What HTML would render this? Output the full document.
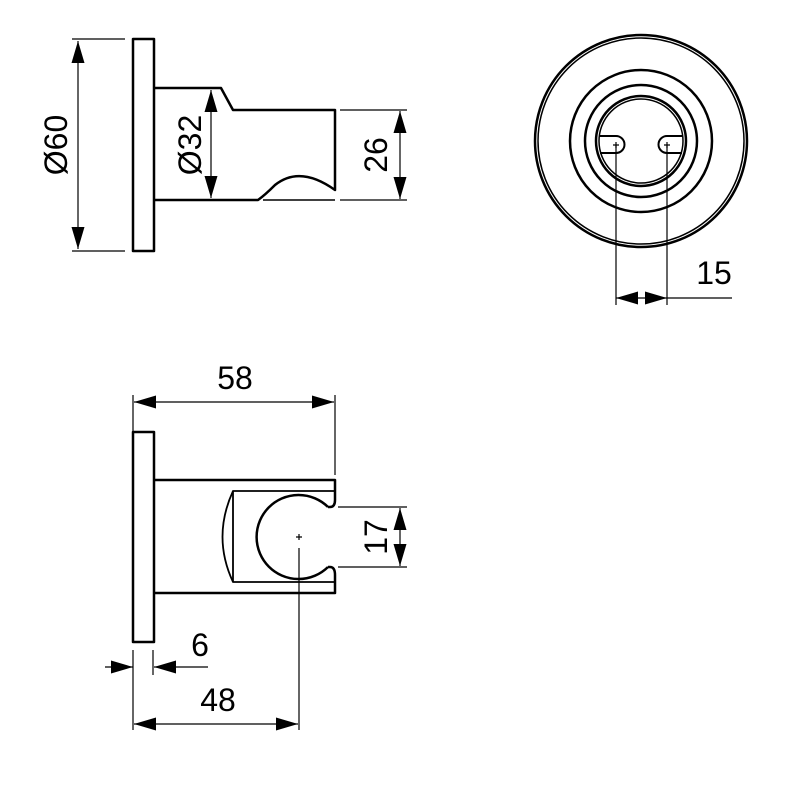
<!DOCTYPE html>
<html><head><style>body{margin:0;background:#fff}</style></head><body>
<svg width="800" height="800" viewBox="0 0 800 800" xmlns="http://www.w3.org/2000/svg" font-family="Liberation Sans, sans-serif">
<defs>
<marker id="a" viewBox="0 0 22 13" refX="22" refY="6.5" markerWidth="22" markerHeight="13" markerUnits="userSpaceOnUse" orient="auto-start-reverse"><path d="M0,0L22,6.5L0,13z" fill="#000"/></marker>
</defs>
<g fill="none" stroke="#000" stroke-width="2.5" stroke-linejoin="round">
<rect x="133" y="39" width="21" height="212"/>
<path d="M154,88H221L233,110H335V190Q300,165 275,185Q265,195 258,200H154"/>
<path d="M263,200H335" stroke-width="1.5"/>
<circle cx="641" cy="141" r="106"/>
<circle cx="641" cy="141" r="103" stroke-width="1.5"/>
<circle cx="641" cy="141" r="71"/>
<circle cx="641" cy="141" r="56"/>
<circle cx="641" cy="141" r="45"/>
<circle cx="641" cy="141" r="42" stroke-width="1.5"/>
<path d="M600,136H616A8,8 0 0 1 616,153H600" stroke-width="2"/>
<path d="M682,136H667A8,8 0 0 0 667,153H682" stroke-width="2"/>
<rect x="133" y="432" width="21" height="210"/>
<path d="M154,480H335V500Q335,507 330,507H328"/>
<path d="M328,567H330Q335,567 335,575V593H154"/>
<path d="M328,507A42,42 0 1 0 328,567"/>
<path d="M335,491H233V582H335" stroke-width="1.8"/>
<path d="M233,491Q212,537 233,582" stroke-width="1.8"/>
</g>
<g stroke="#000" stroke-width="1.2" fill="none">
<path d="M72,39H125M72,251H125"/>
<path d="M78,41V249" marker-start="url(#a)" marker-end="url(#a)"/>
<path d="M211,90V198" marker-start="url(#a)" marker-end="url(#a)"/>
<path d="M340,110H407M340,200H407"/>
<path d="M400,111V199" marker-start="url(#a)" marker-end="url(#a)"/>
<path d="M616,145V305M667,145V305"/>
<path d="M641,298H616" marker-end="url(#a)"/>
<path d="M641,298H667" marker-end="url(#a)"/>
<path d="M667,298H732"/>
<path d="M613,145h6M616,142v6M664,145h6M667,142v6"/>
<path d="M133,395V432M335,395V475"/>
<path d="M134,402H334" marker-start="url(#a)" marker-end="url(#a)"/>
<path d="M338,507H407M338,567H407"/>
<path d="M400,508V566" marker-start="url(#a)" marker-end="url(#a)"/>
<path d="M296,537h6M299,534v6M299,548V730"/>
<path d="M133,650V730M153,650V675"/>
<path d="M134,724H298" marker-start="url(#a)" marker-end="url(#a)"/>
<path d="M105,667H133" marker-end="url(#a)"/>
<path d="M208,667H154" marker-end="url(#a)"/>
</g>
<g font-size="32" fill="#000" text-anchor="middle">
<text transform="translate(67,145) rotate(-90)">Ø60</text>
<text transform="translate(201,145) rotate(-90)">Ø32</text>
<text transform="translate(387,155) rotate(-90)">26</text>
<text x="714" y="284">15</text>
<text x="235" y="389">58</text>
<text transform="translate(387,537) rotate(-90)">17</text>
<text x="200" y="656">6</text>
<text x="218" y="711">48</text>
</g>
</svg>
</body></html>
